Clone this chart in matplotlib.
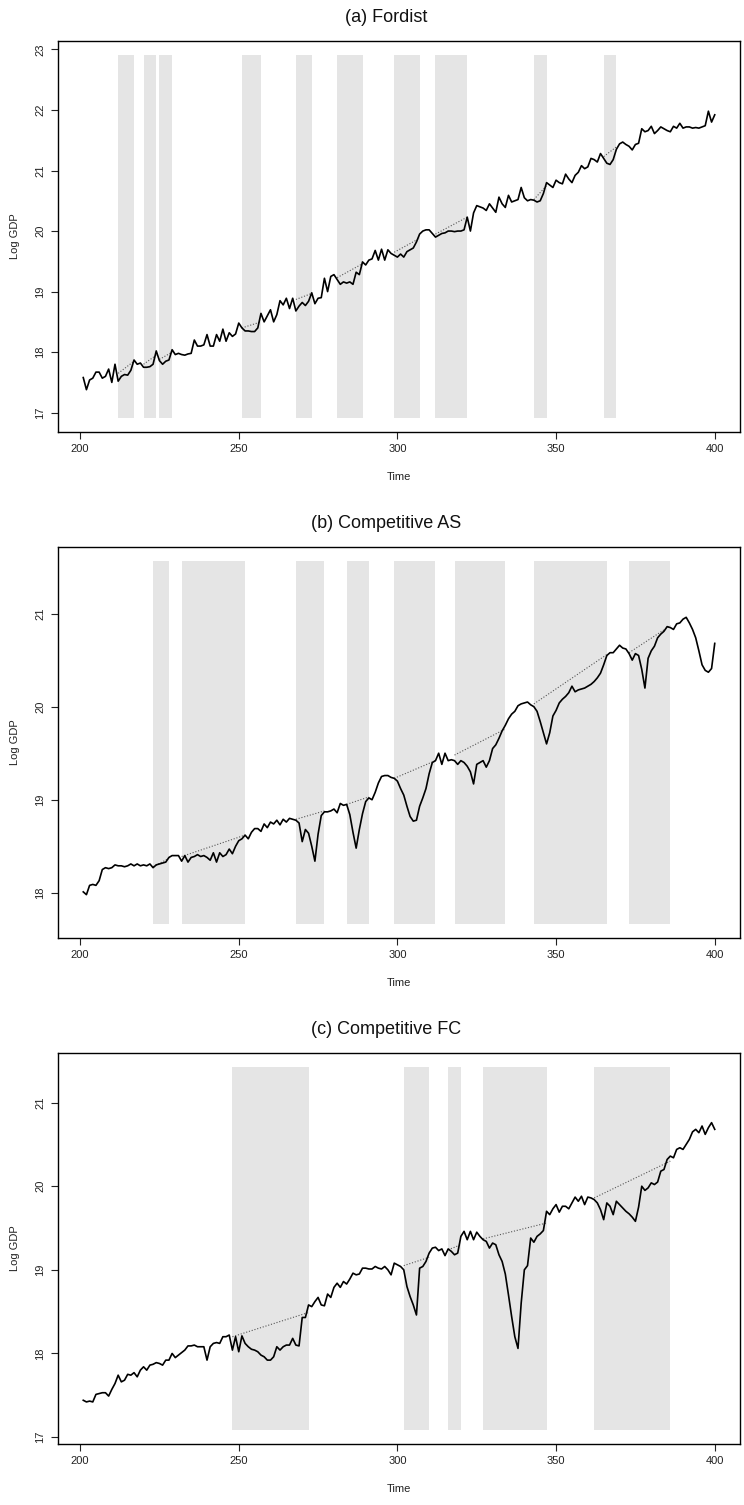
import matplotlib
matplotlib.use("Agg")
import matplotlib.pyplot as plt
import numpy as np

plt.rcParams['font.family'] = ['Liberation Sans', 'DejaVu Sans']

time = list(range(201, 401))

# ---------------- (a) Fordist ----------------
gdp_a = [
    17.58, 17.38, 17.54, 17.57, 17.67, 17.67, 17.57, 17.60, 17.72, 17.50,
    17.80, 17.52, 17.60, 17.63, 17.62, 17.70, 17.87, 17.80, 17.82, 17.75,
    17.75, 17.76, 17.80, 18.02, 17.86, 17.80, 17.85, 17.87, 18.04, 17.96,
    17.98, 17.96, 17.95, 17.97, 17.98, 18.20, 18.10, 18.10, 18.12, 18.29,
    18.10, 18.10, 18.29, 18.18, 18.38, 18.18, 18.32, 18.26, 18.30, 18.48,
    18.40, 18.35, 18.35, 18.34, 18.34, 18.40, 18.64, 18.50, 18.60, 18.70,
    18.50, 18.62, 18.85, 18.78, 18.89, 18.72, 18.89, 18.68, 18.76, 18.82,
    18.77, 18.84, 18.98, 18.80, 18.89, 18.90, 19.22, 19.00, 19.25, 19.28,
    19.20, 19.12, 19.16, 19.14, 19.16, 19.12, 19.32, 19.28, 19.49, 19.44,
    19.52, 19.54, 19.68, 19.52, 19.70, 19.52, 19.69, 19.63, 19.60, 19.57,
    19.62, 19.57, 19.66, 19.69, 19.72, 19.82, 19.95, 20.00, 20.02, 20.02,
    19.96, 19.90, 19.93, 19.96, 19.97, 20.00, 20.00, 19.99, 20.00, 20.00,
    20.02, 20.23, 20.00, 20.30, 20.42, 20.40, 20.38, 20.34, 20.45, 20.38,
    20.31, 20.56, 20.45, 20.39, 20.59, 20.48, 20.50, 20.52, 20.72, 20.55,
    20.50, 20.52, 20.51, 20.48, 20.50, 20.62, 20.80, 20.76, 20.72, 20.84,
    20.80, 20.78, 20.94, 20.86, 20.80, 20.92, 20.97, 21.08, 21.03, 21.06,
    21.20, 21.18, 21.14, 21.28, 21.20, 21.12, 21.10, 21.18, 21.35, 21.44,
    21.47, 21.43, 21.40, 21.34, 21.43, 21.45, 21.69, 21.64, 21.66, 21.73,
    21.61, 21.66, 21.72, 21.69, 21.66, 21.64, 21.73, 21.70, 21.78, 21.70,
    21.72, 21.72, 21.70, 21.71, 21.70, 21.72, 21.74, 21.98, 21.80, 21.92,
]
rec_a_start = [212, 220, 225, 251, 268, 281, 299, 312, 343, 365]
rec_a_end = [217, 224, 229, 257, 273, 289, 307, 322, 347, 369]
trend_a_start = [17.65, 17.80, 17.88, 18.40, 18.87, 19.23, 19.65, 19.95, 20.52, 21.23]
trend_a_end = [17.85, 17.95, 18.00, 18.50, 18.97, 19.46, 19.88, 20.23, 20.75, 21.39]
shade_a = (16.92, 22.90)
yticks_a = [17, 18, 19, 20, 21, 22, 23]

# ---------------- (b) Competitive AS ----------------
gdp_b = [
    18.01, 17.98, 18.08, 18.09, 18.08, 18.13, 18.25, 18.27, 18.26, 18.27,
    18.30, 18.29, 18.29, 18.28, 18.29, 18.31, 18.29, 18.31, 18.29, 18.30,
    18.29, 18.31, 18.27, 18.30, 18.31, 18.32, 18.33, 18.38, 18.40, 18.40,
    18.40, 18.34, 18.40, 18.33, 18.38, 18.39, 18.41, 18.39, 18.40, 18.38,
    18.35, 18.43, 18.33, 18.43, 18.39, 18.41, 18.47, 18.42, 18.50, 18.56,
    18.58, 18.62, 18.58, 18.65, 18.69, 18.69, 18.66, 18.74, 18.70, 18.76,
    18.74, 18.78, 18.73, 18.79, 18.76, 18.80, 18.79, 18.78, 18.75, 18.55,
    18.68, 18.64, 18.50, 18.34, 18.63, 18.83, 18.87, 18.87, 18.88, 18.90,
    18.86, 18.96, 18.94, 18.95, 18.84, 18.65, 18.48, 18.68, 18.85, 18.98,
    19.02, 19.00, 19.08, 19.18, 19.25, 19.26, 19.26, 19.24, 19.23, 19.20,
    19.12, 19.05, 18.93, 18.82, 18.77, 18.78, 18.93, 19.02, 19.12, 19.28,
    19.40, 19.42, 19.50, 19.38, 19.50, 19.42, 19.43, 19.42, 19.38, 19.42,
    19.40, 19.36, 19.30, 19.17, 19.38, 19.40, 19.42, 19.35, 19.42, 19.55,
    19.59, 19.66, 19.74, 19.80, 19.87, 19.92, 19.95, 20.01, 20.03, 20.04,
    20.05, 20.02, 20.00, 19.95, 19.84, 19.72, 19.60, 19.72, 19.90, 19.96,
    20.04, 20.08, 20.11, 20.15, 20.22, 20.16, 20.18, 20.19, 20.20, 20.22,
    20.24, 20.27, 20.31, 20.36, 20.45, 20.55, 20.58, 20.58, 20.62, 20.66,
    20.63, 20.62, 20.57, 20.50, 20.57, 20.55, 20.40, 20.20, 20.52, 20.60,
    20.65, 20.74, 20.78, 20.81, 20.86, 20.85, 20.83, 20.89, 20.90, 20.94,
    20.96, 20.90, 20.83, 20.74, 20.60, 20.45, 20.39, 20.37, 20.41, 20.68,
]
rec_b_start = [223, 232, 268, 284, 299, 318, 343, 373]
rec_b_end = [228, 252, 277, 291, 312, 334, 366, 386]
trend_b_start = [18.28, 18.39, 18.79, 18.95, 19.23, 19.48, 20.03, 20.58]
trend_b_end = [18.37, 18.62, 18.88, 19.03, 19.42, 19.76, 20.56, 20.87]
shade_b = (17.67, 21.56)
yticks_b = [18, 19, 20, 21]

# ---------------- (c) Competitive FC ----------------
gdp_c = [
    17.44, 17.42, 17.43, 17.42, 17.51, 17.52, 17.53, 17.53, 17.49, 17.57,
    17.64, 17.74, 17.66, 17.68, 17.75, 17.74, 17.77, 17.72, 17.80, 17.84,
    17.80, 17.86, 17.87, 17.89, 17.88, 17.86, 17.92, 17.92, 18.00, 17.95,
    17.98, 18.01, 18.04, 18.09, 18.09, 18.10, 18.08, 18.08, 18.08, 17.92,
    18.08, 18.12, 18.13, 18.12, 18.20, 18.20, 18.22, 18.04, 18.20, 18.02,
    18.21, 18.12, 18.08, 18.05, 18.04, 18.02, 17.98, 17.96, 17.92, 17.92,
    17.96, 18.08, 18.04, 18.08, 18.10, 18.10, 18.18, 18.10, 18.09, 18.43,
    18.43, 18.58, 18.56, 18.62, 18.67, 18.58, 18.57, 18.71, 18.67, 18.79,
    18.84, 18.79, 18.86, 18.83, 18.89, 18.96, 18.94, 18.95, 19.02, 19.02,
    19.01, 19.01, 19.04, 19.02, 19.01, 19.04, 19.00, 18.94, 19.08, 19.06,
    19.04, 19.00, 18.80, 18.68, 18.58, 18.46, 19.02, 19.04, 19.10, 19.20,
    19.26, 19.27, 19.23, 19.25, 19.17, 19.25, 19.22, 19.18, 19.20, 19.40,
    19.46, 19.36, 19.46, 19.36, 19.45, 19.40, 19.36, 19.34, 19.26, 19.32,
    19.30, 19.18, 19.10, 18.95, 18.70, 18.44, 18.20, 18.06, 18.60, 19.00,
    19.05, 19.38, 19.33, 19.40, 19.43, 19.47, 19.70, 19.66, 19.73, 19.78,
    19.69, 19.76, 19.76, 19.73, 19.80, 19.87, 19.82, 19.88, 19.78, 19.87,
    19.86, 19.84, 19.80, 19.72, 19.60, 19.80, 19.76, 19.66, 19.82, 19.78,
    19.74, 19.70, 19.67, 19.63, 19.58, 19.75, 20.00, 19.95, 19.98, 20.04,
    20.02, 20.05, 20.18, 20.20, 20.32, 20.36, 20.34, 20.44, 20.46, 20.44,
    20.50, 20.56, 20.65, 20.68, 20.64, 20.72, 20.62, 20.70, 20.76, 20.68,
]
rec_c_start = [248, 302, 316, 327, 362]
rec_c_end = [272, 310, 320, 347, 386]
trend_c_start = [18.20, 19.05, 19.24, 19.37, 19.86]
trend_c_end = [18.49, 19.15, 19.30, 19.56, 20.30]
shade_c = (17.09, 21.42)
yticks_c = [17, 18, 19, 20, 21]

titles = ["(a) Fordist", "(b) Competitive AS", "(c) Competitive FC"]
xticks = [200, 250, 300, 350, 400]

panels = [
    (gdp_a, rec_a_start, rec_a_end, trend_a_start, trend_a_end, shade_a, yticks_a),
    (gdp_b, rec_b_start, rec_b_end, trend_b_start, trend_b_end, shade_b, yticks_b),
    (gdp_c, rec_c_start, rec_c_end, trend_c_start, trend_c_end, shade_c, yticks_c),
]

W, H = 744, 1505
fig = plt.figure(figsize=(W / 100, H / 100), dpi=100)
left_px, right_px = 58, 740
tops_px = [41, 547, 1053]
ax_h_px = 391

for i, (gdp, rs, re, ts, te, shade, yt) in enumerate(panels):
    top = tops_px[i]
    ax = fig.add_axes([left_px / W, 1 - (top + ax_h_px) / H,
                       (right_px - left_px) / W, ax_h_px / H])
    lo, hi = shade
    for s, e in zip(rs, re):
        ax.bar(s, hi - lo, width=e - s, bottom=lo, align='edge',
               color='#e5e5e5', linewidth=0, zorder=1)
    for s, e, a, b in zip(rs, re, ts, te):
        ax.plot([s, e], [a, b], linestyle=(0, (1, 1.6)), color='#555555',
                linewidth=0.8, zorder=2)
    ax.plot(time, gdp, color='black', linewidth=1.2, zorder=3)

    xr = time[-1] - time[0]
    ax.set_xlim(time[0] - 0.04 * xr, time[-1] + 0.04 * xr)
    span = hi - lo
    ax.set_ylim(lo - 0.04 * span, hi + 0.04 * span)
    ax.set_xticks(xticks)
    ax.set_yticks(yt)
    ax.tick_params(direction='out', length=5, width=0.8, labelsize=8,
                   pad=4, colors='#222222')
    for lab in ax.get_yticklabels():
        lab.set_rotation(90)
        lab.set_va('center')
    for sp in ax.spines.values():
        sp.set_linewidth(1.0)
        sp.set_color('black')

    ax.set_xlabel("Time", fontsize=8, color='#222222')
    ax.xaxis.label.set_va('center')
    ax.xaxis.set_label_coords(0.5, -45 / ax_h_px)
    ax.set_ylabel("Log GDP", fontsize=8, color='#222222')
    ax.yaxis.label.set_va('center')
    ax.yaxis.set_label_coords(-43 / (right_px - left_px), 0.5)

    ax.set_title(titles[i], fontsize=13, x=(386 - left_px) / (right_px - left_px),
                 pad=14, color='#111111')

fig.savefig("out.png", dpi=100)
